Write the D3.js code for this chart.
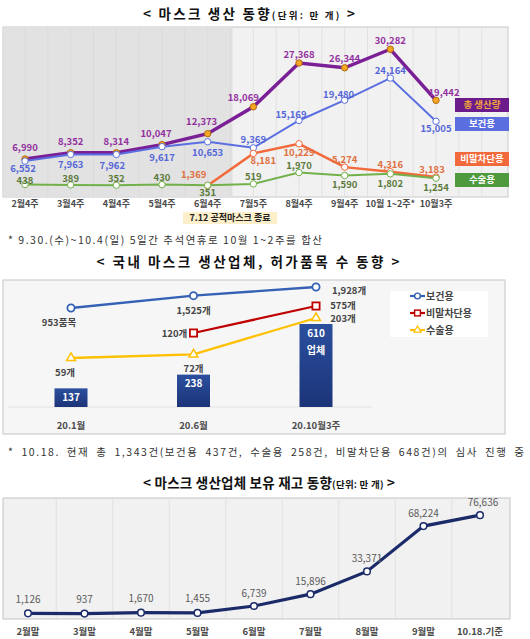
<!DOCTYPE html>
<html>
<head>
<meta charset="utf-8">
<script src="https://cdn.jsdelivr.net/npm/d3@7"></script>
<style>
  body { margin: 0; background: #fff; }
  svg { display: block; font-family: "Noto Sans CJK KR", "Noto Sans", sans-serif; }
</style>
</head>
<body>
<svg id="chart" width="530" height="639"></svg>
<script>
// chart 1: mask production (unit: 10k)
const weeks = ['2월4주', '3월4주', '4월4주', '5월4주', '6월4주', '7월5주', '8월4주', '9월4주', '10월 1~2주*', '10월3주']
const totalProd = [6990, 8352, 8314, 10047, 12373, 18069, 27368, 26344, 30282, 19442]
const healthProd = [6552, 7963, 7962, 9617, 10653, 9369, 15169, 19480, 24164, 15005]
const dropletProd = [null, null, null, null, 1369, 8181, 10229, 5274, 4316, 3183]
const surgicalProd = [438, 389, 352, 430, 351, 519, 1970, 1590, 1802, 1254]

// chart 2: makers and approved items
const periods = ['20.1월', '20.6월', '20.10월3주']
const makers = [137, 238, 610]
const healthItems = [953, 1525, 1928]
const dropletItems = [null, 120, 575]
const surgicalItems = [59, 72, 203]

// chart 3: stock held by makers (unit: 10k)
const months = ['2월말', '3월말', '4월말', '5월말', '6월말', '7월말', '8월말', '9월말', '10.18.기준']
const stock = [1126, 937, 1670, 1455, 6739, 15896, 33371, 68224, 76636]

const svg = d3.select('#chart')
const fmt = d3.format(',')

const title = (cx, y, width, main, unit) => {
  const t = svg.append('text')
    .attr('x', cx).attr('y', y)
    .attr('text-anchor', 'middle')
    .attr('font-weight', 'bold')
    .attr('fill', '#111')
    .attr('textLength', width).attr('lengthAdjust', 'spacing')
  t.append('tspan').attr('font-size', 13.5).text(main)
  if (unit) t.append('tspan').attr('font-size', 9.5).text(unit)
  t.append('tspan').attr('font-size', 13.5).text(' >')
}

const footnote = (y, width, wordGap, txt) => {
  svg.append('text').attr('x', 8).attr('y', y).attr('dy', '0.35em')
    .attr('font-size', 10.5).attr('fill', '#333')
    .attr('word-spacing', wordGap)
    .attr('textLength', width).attr('lengthAdjust', 'spacing')
    .text(txt)
}

// ---------- chart 1 ----------
title(249, 19, 212, '< 마스크 생산 동향', '(단위: 만 개)')

const x1 = d3.scalePoint().domain(weeks).range([25, 436])
const y1 = d3.scaleLinear().domain([0, 35000]).range([192, 27])
const y1s = d3.scaleLinear().domain([0, 2000]).range([188, 172.3])

const p1 = svg.append('g')
p1.append('rect').attr('x', 3).attr('y', 27).attr('width', 505).attr('height', 170)
  .attr('fill', '#f1f1f1').attr('stroke', '#c8c8c8')
p1.append('rect').attr('x', 3.5).attr('y', 27.5).attr('width', 229).attr('height', 169)
  .attr('fill', '#e2e2e2')
const step1 = x1.step() / 2
p1.selectAll('line.grid')
  .data(d3.range(0, 21))
  .enter().append('line')
  .attr('x1', (d) => 25 + d * step1).attr('x2', (d) => 25 + d * step1)
  .attr('y1', 28).attr('y2', 196)
  .attr('stroke', '#d6d6d6').attr('stroke-width', 0.6)

const series1 = [
  {vals: totalProd, y: y1, color: '#7a1f96', label: '#93319f', fill: '#f5a623', r: 3.2, w: 3.5,
    dy: [-11, -11, -11, -11, -12, -9, -8, -9, -9, -8], dx: [0, 0, 0, -6, -6, -10, 0, 0, 0, 8]},
  {vals: healthProd, y: y1, color: '#5a6ee0', label: '#5567d8', fill: '#fff', r: 3.2, w: 2,
    dy: [8, 10, 11, 11, 11, -8, -6, -5, -7, 7], dx: [-2, 0, -4, 0, 0, 0, -8, -6, 0, 0]},
  {vals: dropletProd, y: y1, color: '#f26a3b', label: '#e0703f', fill: '#fff', r: 3.2, w: 2.5,
    dy: [0, 0, 0, 0, -11, 7, 9, -7, -7, -7], dx: [0, 0, 0, 0, -14, 10, 0, 0, 0, -4]},
  {vals: surgicalProd, y: y1s, color: '#72b04a', label: '#5b7a3c', fill: '#fff', r: 3.2, w: 2,
    dy: [-4, -6, -7, -7, 7, -7, -7, 9, 10, 10], dx: [0, 0, 0, 0, 0, 0, 0, 0, 0, 0]}
]

series1.forEach((s) => {
  const pts = s.vals.map((v, i) => ({v, i})).filter((d) => d.v != null)
  const line = d3.line().x((d) => x1(weeks[d.i])).y((d) => s.y(d.v))
  p1.append('path').datum(pts).attr('d', line)
    .attr('fill', 'none').attr('stroke', s.color).attr('stroke-width', s.w)
  p1.selectAll(null).data(pts).enter().append('circle')
    .attr('cx', (d) => x1(weeks[d.i])).attr('cy', (d) => s.y(d.v)).attr('r', s.r)
    .attr('fill', s.fill).attr('stroke', s.fill === '#fff' ? s.color : '#b06a10').attr('stroke-width', 1)
})
series1.forEach((s) => {
  const pts = s.vals.map((v, i) => ({v, i})).filter((d) => d.v != null)
  p1.selectAll(null).data(pts).enter().append('text')
    .attr('x', (d) => x1(weeks[d.i]) + s.dx[d.i])
    .attr('y', (d) => s.y(d.v) + s.dy[d.i])
    .attr('dy', '0.35em')
    .attr('text-anchor', 'middle')
    .attr('font-size', 9.5).attr('font-weight', 'bold')
    .attr('fill', s.label)
    .text((d) => fmt(d.v))
})

const legend1 = [
  {name: '총 생산량', bg: '#6b1b8a', fg: '#f0a43a', y: 98},
  {name: '보건용', bg: '#5a6ee0', fg: '#fff', y: 117},
  {name: '비말차단용', bg: '#f26a3b', fg: '#fff', y: 152},
  {name: '수술용', bg: '#4f9a3c', fg: '#fff', y: 173}
]
const lg1 = p1.selectAll('g.lg').data(legend1).enter().append('g')
lg1.append('rect').attr('x', 455).attr('y', (d) => d.y).attr('width', 54).attr('height', 14)
  .attr('fill', (d) => d.bg)
lg1.append('text').attr('x', 482).attr('y', (d) => d.y + 7).attr('dy', '0.35em')
  .attr('text-anchor', 'middle').attr('font-size', 9.5).attr('font-weight', 'bold')
  .attr('fill', (d) => d.fg).text((d) => d.name)

p1.append('g').selectAll('text').data(weeks).enter().append('text')
  .attr('x', (d) => x1(d)).attr('y', 204).attr('dy', '0.35em')
  .attr('text-anchor', 'middle').attr('font-size', 9).attr('font-weight', 'bold')
  .attr('fill', '#4a4a4a').text((d) => d)

p1.append('rect').attr('x', 183).attr('y', 212).attr('width', 94).attr('height', 12).attr('fill', '#fcefc9')
p1.append('text').attr('x', 230).attr('y', 218).attr('dy', '0.35em').attr('text-anchor', 'middle')
  .attr('font-size', 9).attr('font-weight', 'bold').attr('fill', '#222').text('7.12 공적마스크 종료')

footnote(240, 314, 0, '* 9.30.(수)~10.4(일) 5일간 추석연휴로 10월 1~2주를 합산')

// ---------- chart 2 ----------
title(248, 267, 303, '< 국내 마스크 생산업체, 허가품목 수 동향', null)

const x2 = d3.scalePoint().domain(periods).range([71, 316])
const yBar = d3.scaleLinear().domain([0, 610]).range([407, 324])
const p2 = svg.append('g')
p2.append('rect').attr('x', 3).attr('y', 280).attr('width', 502).attr('height', 154)
  .attr('fill', '#f6f6f6').attr('stroke', '#c4c4c4')
p2.append('line').attr('x1', 8).attr('x2', 372).attr('y1', 407).attr('y2', 407)
  .attr('stroke', '#e2e2e2')

const grad = svg.append('defs').append('linearGradient').attr('id', 'barGrad')
  .attr('x1', 0).attr('x2', 0).attr('y1', 0).attr('y2', 1)
grad.append('stop').attr('offset', '0%').attr('stop-color', '#2b4f9e')
grad.append('stop').attr('offset', '100%').attr('stop-color', '#1c3478')

p2.selectAll('rect.bar').data(makers).enter().append('rect')
  .attr('x', (d, i) => x2(periods[i]) - 16.5).attr('width', 33)
  .attr('y', (d) => yBar(d)).attr('height', (d) => yBar(0) - yBar(d))
  .attr('fill', 'url(#barGrad)')
p2.selectAll('text.bar').data(makers).enter().append('text')
  .attr('x', (d, i) => x2(periods[i])).attr('y', (d) => yBar(d) + 9).attr('dy', '0.35em')
  .attr('text-anchor', 'middle').attr('font-size', 10).attr('font-weight', 'bold')
  .attr('fill', '#fff').text((d) => d)
p2.append('text').attr('x', x2(periods[2])).attr('y', yBar(makers[2]) + 26).attr('dy', '0.35em')
  .attr('text-anchor', 'middle').attr('font-size', 10).attr('font-weight', 'bold')
  .attr('fill', '#fff').text('업체')

const series2 = [
  {name: '보건용', vals: healthItems, range: [308, 287], color: '#3561b5', shape: 'circle',
    labels: ['953품목', '1,525개', '1,928개'], off: [[-12, 15], [0, 15], [33, 4]]},
  {name: '비말차단용', vals: dropletItems, range: [333, 306], color: '#c00000', shape: 'square',
    labels: [null, '120개', '575개'], off: [[0, 0], [-19, 1], [27, 0]]},
  {name: '수술용', vals: surgicalItems, range: [358, 318], color: '#ffc000', shape: 'triangle',
    labels: ['59개', '72개', '203개'], off: [[-6, 15], [0, 14], [27, 1]]}
]

const marker = (g, shape, color) => {
  if (shape === 'circle') {
    g.append('circle').attr('r', 3.6).attr('fill', '#fff').attr('stroke', color).attr('stroke-width', 1.8)
  } else if (shape === 'square') {
    g.append('rect').attr('x', -3.6).attr('y', -3.6).attr('width', 7.2).attr('height', 7.2)
      .attr('fill', '#fff').attr('stroke', color).attr('stroke-width', 1.8)
  } else {
    g.append('path').attr('d', d3.symbol(d3.symbolTriangle, 34)())
      .attr('fill', '#fff').attr('stroke', color).attr('stroke-width', 1.5)
  }
}

series2.forEach((s) => {
  const ext = d3.extent(s.vals.filter((v) => v != null))
  const y = d3.scaleLinear().domain(ext).range(s.range)
  const pts = s.vals.map((v, i) => ({v, i})).filter((d) => d.v != null)
  const line = d3.line().x((d) => x2(periods[d.i])).y((d) => y(d.v))
  p2.append('path').datum(pts).attr('d', line)
    .attr('fill', 'none').attr('stroke', s.color).attr('stroke-width', 2.3)
  pts.forEach((d) => {
    const g = p2.append('g').attr('transform', `translate(${x2(periods[d.i])},${y(d.v)})`)
    marker(g, s.shape, s.color)
    g.append('text').attr('x', s.off[d.i][0]).attr('y', s.off[d.i][1]).attr('dy', '0.35em')
      .attr('text-anchor', 'middle').attr('font-size', 9.5).attr('font-weight', 'bold')
      .attr('fill', '#444').text(s.labels[d.i])
  })
})

p2.append('rect').attr('x', 390).attr('y', 291).attr('width', 98).attr('height', 46).attr('fill', '#fff')
series2.forEach((s, i) => {
  const ly = 296 + i * 17
  p2.append('line').attr('x1', 410).attr('x2', 425).attr('y1', ly).attr('y2', ly)
    .attr('stroke', s.color).attr('stroke-width', 2.2)
  const g = p2.append('g').attr('transform', `translate(417.5,${ly}) scale(0.8)`)
  marker(g, s.shape, s.color)
  p2.append('text').attr('x', 426).attr('y', ly).attr('dy', '0.35em')
    .attr('font-size', 10).attr('font-weight', 'bold').attr('fill', '#444').text(s.name)
})

p2.selectAll('text.cat').data(periods).enter().append('text')
  .attr('x', (d) => x2(d)).attr('y', 426).attr('dy', '0.35em')
  .attr('text-anchor', 'middle').attr('font-size', 9.5).attr('font-weight', 'bold')
  .attr('fill', '#4a4a4a').text((d) => d)

footnote(452, 516, 3, '* 10.18. 현재 총 1,343건(보건용 437건, 수술용 258건, 비말차단용 648건)의 심사 진행 중')

// ---------- chart 3 ----------
title(269, 488, 252, '< 마스크 생산업체 보유 재고 동향', '(단위: 만 개)')

const x3 = d3.scalePoint().domain(months).range([28, 480])
const y3 = d3.scaleLinear().domain([0, 80000]).range([614.8, 510.8])
const p3 = svg.append('g')
p3.append('rect').attr('x', 3).attr('y', 498).attr('width', 507).attr('height', 121)
  .attr('fill', '#f1f1f1').attr('stroke', '#c4c4c4')
p3.selectAll('line.grid').data(months.slice(1)).enter().append('line')
  .attr('x1', (d) => x3(d) - x3.step() / 2).attr('x2', (d) => x3(d) - x3.step() / 2)
  .attr('y1', 499).attr('y2', 618)
  .attr('stroke', '#dedede').attr('stroke-width', 0.8)

p3.append('path').datum(stock)
  .attr('d', d3.line().x((d, i) => x3(months[i])).y((d) => y3(d)))
  .attr('fill', 'none').attr('stroke', '#1b2a68').attr('stroke-width', 3.2)
p3.selectAll('circle').data(stock).enter().append('circle')
  .attr('cx', (d, i) => x3(months[i])).attr('cy', (d) => y3(d)).attr('r', 3.3)
  .attr('fill', '#fff').attr('stroke', '#1b2a68').attr('stroke-width', 1.5)
p3.selectAll('text.val').data(stock).enter().append('text')
  .attr('x', (d, i) => x3(months[i]) + (i === 8 ? 3 : 0))
  .attr('y', (d, i) => y3(d) - (i < 4 ? 14 : 13))
  .attr('dy', '0.35em')
  .attr('text-anchor', 'middle').attr('font-size', 10)
  .attr('fill', '#5a5a5a').text((d) => fmt(d))
p3.selectAll('text.cat').data(months).enter().append('text')
  .attr('x', (d) => x3(d)).attr('y', 632).attr('dy', '0.35em')
  .attr('text-anchor', 'middle').attr('font-size', 9.5).attr('font-weight', 'bold')
  .attr('fill', '#4a4a4a').text((d) => d)
</script>
</body>
</html>
